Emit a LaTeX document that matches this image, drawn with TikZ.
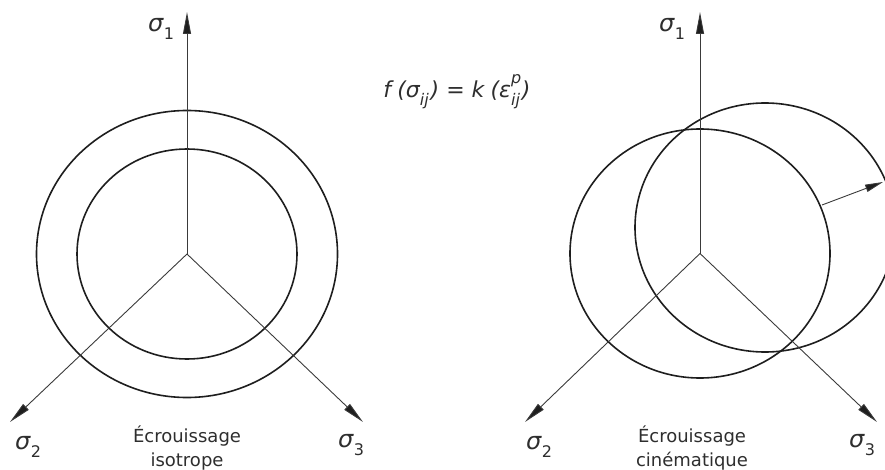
\documentclass[tikz,border=0pt]{standalone}
\usepackage{fontspec}
\setmainfont{DejaVu Sans}
\usetikzlibrary{arrows.meta}
\definecolor{ink}{HTML}{1E1E1E}
\definecolor{axisc}{HTML}{3A3A3A}
\definecolor{txt}{HTML}{2E2E2E}
\tikzset{
  yieldc/.style={draw=ink, line width=1.6pt},
  axisl/.style={draw=axisc, line width=0.9pt, -{Triangle[length=22pt,width=8pt,fill=ink]}},
  pusharrow/.style={draw=axisc, line width=0.9pt, -{Triangle[length=18pt,width=7.5pt,fill=ink]}},
  lbl/.style={text=txt, font=\fontsize{24}{24}\selectfont, inner sep=0pt},
  captext/.style={text=txt, font=\fontsize{18}{24}\selectfont, align=center, inner sep=0pt},
  formula/.style={text=txt, font=\fontsize{22}{22}\selectfont\itshape, inner sep=0pt},
}
\newcommand{\sg}[1]{{\itshape σ}\kern0.5pt\raisebox{-0.3em}{\fontsize{16}{16}\selectfont #1}}
\newcommand{\smallidx}[1]{{\fontsize{16}{16}\selectfont #1}}
\begin{document}
\begin{tikzpicture}[x=1pt,y=-1pt]
\useasboundingbox (0,0) rectangle (885,470);
\clip (0,0) rectangle (885,470);
% left: isotropic hardening
\coordinate (O1) at (187,254);
\coordinate (T1) at (187,12);
\coordinate (L1) at (10,422);
\coordinate (R1) at (363,422);
\draw[yieldc] (O1) ellipse [x radius=150.5pt, y radius=143.5pt];
\draw[yieldc] (O1) ellipse [x radius=110pt, y radius=105pt];
\draw[axisl] (O1) -- (T1);
\draw[axisl] (O1) -- (L1);
\draw[axisl] (O1) -- (R1);
\node[lbl] (s1a) at (161,29) {\sg{1}};
\node[lbl] (s2a) at (28,447) {\sg{2}};
\node[lbl] (s3a) at (351,445) {\sg{3}};
\node[captext, anchor=north] (capa) at (187,426) {Écrouissage\\isotrope};
% right: kinematic hardening
\coordinate (O2) at (700,253.5);
\coordinate (C2) at (765,227.5);
\coordinate (T2) at (700,12);
\coordinate (L2) at (525,422);
\coordinate (R2) at (877,422);
\draw[yieldc] (O2) ellipse [x radius=130pt, y radius=124.5pt];
\draw[yieldc] (C2) ellipse [x radius=130pt, y radius=124.5pt];
\draw[axisl] (O2) -- (T2);
\draw[axisl] (O2) -- (L2);
\draw[axisl] (O2) -- (R2);
\coordinate (A0) at (822,205);
\coordinate (A1) at (883,182);
\draw[pusharrow] (A0) -- (A1);
\node[lbl] (s1b) at (672,29) {\sg{1}};
\node[lbl] (s2b) at (539,447) {\sg{2}};
\node[lbl] (s3b) at (862,445) {\sg{3}};
\node[captext, anchor=north] (capb) at (692,426) {Écrouissage\\cinématique};
% formula
\node[formula] (law) at (457,92) {f\;(σ\raisebox{-0.4em}{\smallidx{ij}}\kern2pt) = k\;(ε\rlap{\raisebox{0.6em}{\smallidx{p}}}\raisebox{-0.4em}{\smallidx{ij}}\kern2pt)};
\end{tikzpicture}
\end{document}
